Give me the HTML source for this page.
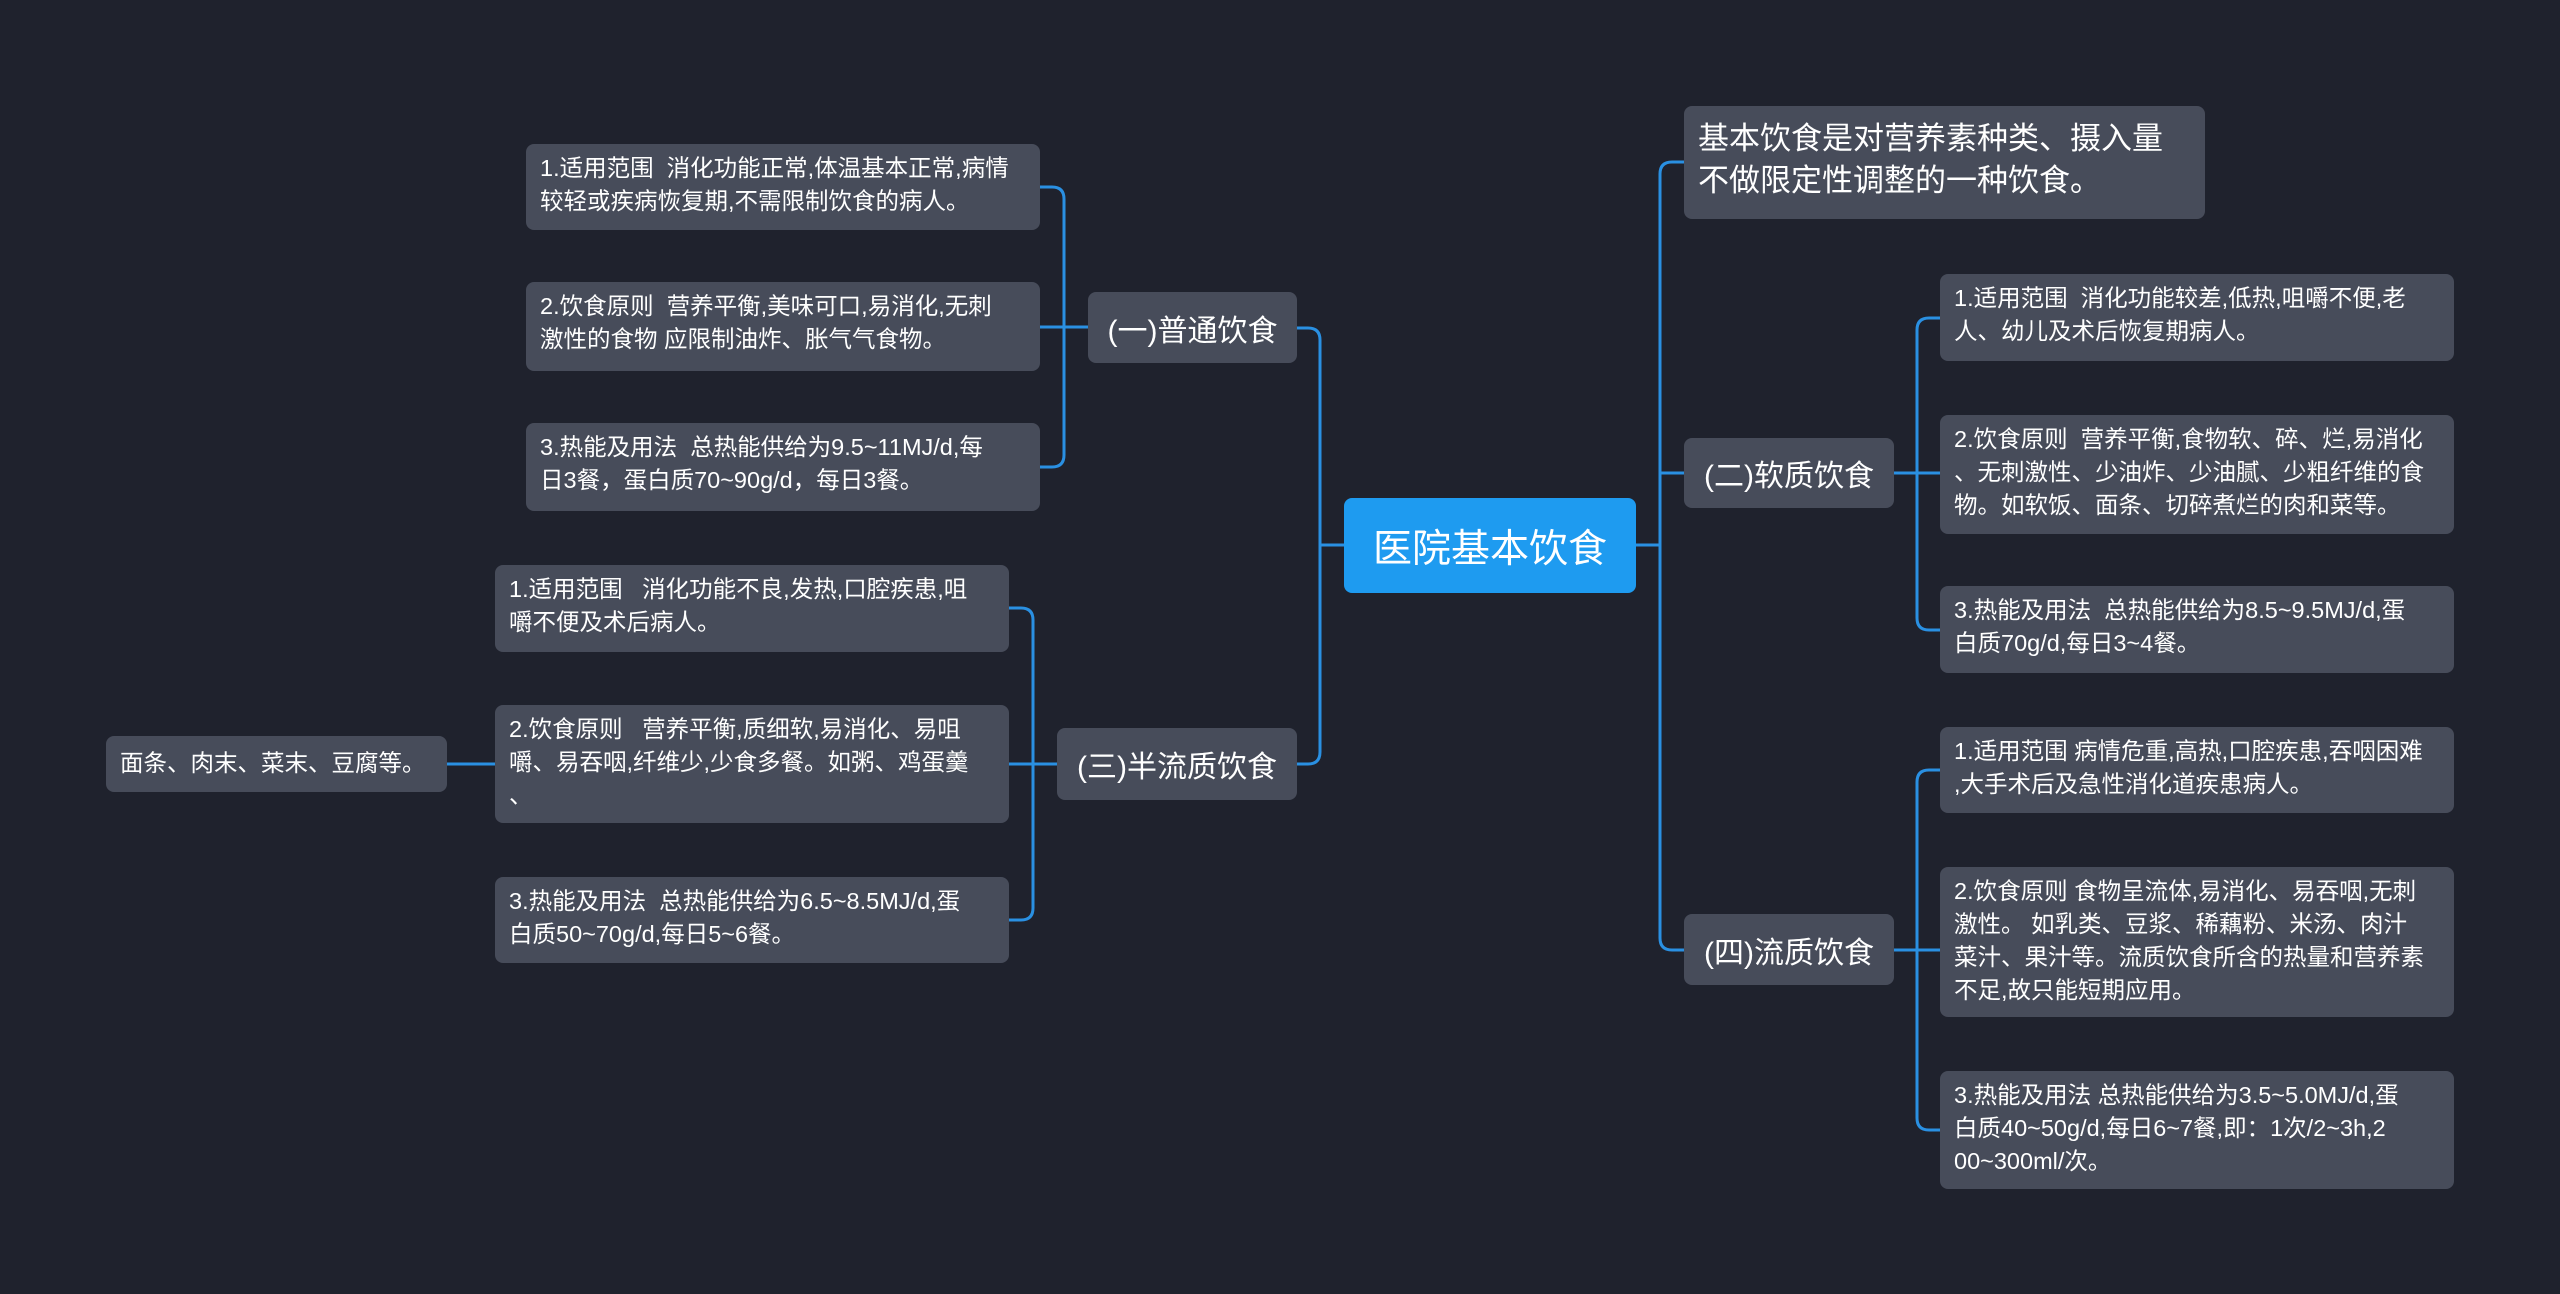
<!DOCTYPE html>
<html><head><meta charset="utf-8"><style>
body{margin:0;width:2560px;height:1294px;background:#1f222d;overflow:hidden;position:relative;font-family:"Liberation Sans","Noto Sans CJK SC",sans-serif;color:#fff}
.n{position:absolute;box-sizing:border-box;background:#474c5a;border-radius:8px;}
.leaf{font-size:23.5px;line-height:33px;padding:8px 0 0 14px;white-space:nowrap;overflow:hidden}
.br{font-size:30px;display:flex;align-items:center;justify-content:center;white-space:nowrap}
svg{position:absolute;left:0;top:0}
</style></head><body>
<svg width="2560" height="1294" fill="none" stroke="#2a90e2" stroke-width="3">
<path d="M1344 545 H1320 M1297 328 H1308 Q1320 328 1320 340 V752 Q1320 764 1308 764 H1297"/>
<path d="M1636 545 H1660 M1684 162 H1672 Q1660 162 1660 174 V938 Q1660 950 1672 950 H1684 M1660 473 H1684"/>
<path d="M1088 327 H1040 M1040 187 H1052 Q1064 187 1064 199 V455 Q1064 467 1052 467 H1040"/>
<path d="M1057 764 H1009 M1009 608 H1021 Q1033 608 1033 620 V908 Q1033 920 1021 920 H1009 M495 764 H447"/>
<path d="M1894 473 H1940 M1940 318 H1929 Q1917 318 1917 330 V618 Q1917 630 1929 630 H1940"/>
<path d="M1894 950 H1940 M1940 770 H1929 Q1917 770 1917 782 V1118 Q1917 1130 1929 1130 H1940"/>
</svg>
<div class="n br" style="left:1344px;top:498px;width:292px;height:95px;background:#1e9bf0;font-size:39px">医院基本饮食</div>
<div class="n br" style="left:1088px;top:292px;width:209px;height:71px">(一)普通饮食</div>
<div class="n br" style="left:1057px;top:728px;width:240px;height:72px">(三)半流质饮食</div>
<div class="n br" style="left:1684px;top:438px;width:210px;height:70px">(二)软质饮食</div>
<div class="n br" style="left:1684px;top:914px;width:210px;height:71px">(四)流质饮食</div>
<div class="n" style="left:1684px;top:106px;width:521px;height:113px;font-size:31px;line-height:42px;padding:12px 0 0 14px">基本饮食是对营养素种类、摄入量<br>不做限定性调整的一种饮食。</div>
<div class="n leaf" style="left:526px;top:144px;width:514px;height:86px">1.适用范围&nbsp; 消化功能正常,体温基本正常,病情<br>较轻或疾病恢复期,不需限制饮食的病人。</div>
<div class="n leaf" style="left:526px;top:282px;width:514px;height:89px">2.饮食原则&nbsp; 营养平衡,美味可口,易消化,无刺<br>激性的食物 应限制油炸、胀气气食物。</div>
<div class="n leaf" style="left:526px;top:423px;width:514px;height:88px">3.热能及用法&nbsp; 总热能供给为9.5~11MJ/d,每<br>日3餐，蛋白质70~90g/d，每日3餐。</div>
<div class="n leaf" style="left:495px;top:565px;width:514px;height:87px">1.适用范围&nbsp;&nbsp; 消化功能不良,发热,口腔疾患,咀<br>嚼不便及术后病人。</div>
<div class="n leaf" style="left:495px;top:705px;width:514px;height:118px">2.饮食原则&nbsp;&nbsp; 营养平衡,质细软,易消化、易咀<br>嚼、易吞咽,纤维少,少食多餐。如粥、鸡蛋羹<br>、</div>
<div class="n leaf" style="left:495px;top:877px;width:514px;height:86px">3.热能及用法&nbsp; 总热能供给为6.5~8.5MJ/d,蛋<br>白质50~70g/d,每日5~6餐。</div>
<div class="n leaf" style="left:106px;top:736px;width:341px;height:56px;padding-top:11px">面条、肉末、菜末、豆腐等。</div>
<div class="n leaf" style="left:1940px;top:274px;width:514px;height:87px">1.适用范围&nbsp; 消化功能较差,低热,咀嚼不便,老<br>人、幼儿及术后恢复期病人。</div>
<div class="n leaf" style="left:1940px;top:415px;width:514px;height:119px">2.饮食原则&nbsp; 营养平衡,食物软、碎、烂,易消化<br>、无刺激性、少油炸、少油腻、少粗纤维的食<br>物。如软饭、面条、切碎煮烂的肉和菜等。</div>
<div class="n leaf" style="left:1940px;top:586px;width:514px;height:87px">3.热能及用法&nbsp; 总热能供给为8.5~9.5MJ/d,蛋<br>白质70g/d,每日3~4餐。</div>
<div class="n leaf" style="left:1940px;top:727px;width:514px;height:86px">1.适用范围 病情危重,高热,口腔疾患,吞咽困难<br>,大手术后及急性消化道疾患病人。</div>
<div class="n leaf" style="left:1940px;top:867px;width:514px;height:150px">2.饮食原则 食物呈流体,易消化、易吞咽,无刺<br>激性。 如乳类、豆浆、稀藕粉、米汤、肉汁<br>菜汁、果汁等。流质饮食所含的热量和营养素<br>不足,故只能短期应用。</div>
<div class="n leaf" style="left:1940px;top:1071px;width:514px;height:118px">3.热能及用法 总热能供给为3.5~5.0MJ/d,蛋<br>白质40~50g/d,每日6~7餐,即：1次/2~3h,2<br>00~300ml/次。</div>
</body></html>
